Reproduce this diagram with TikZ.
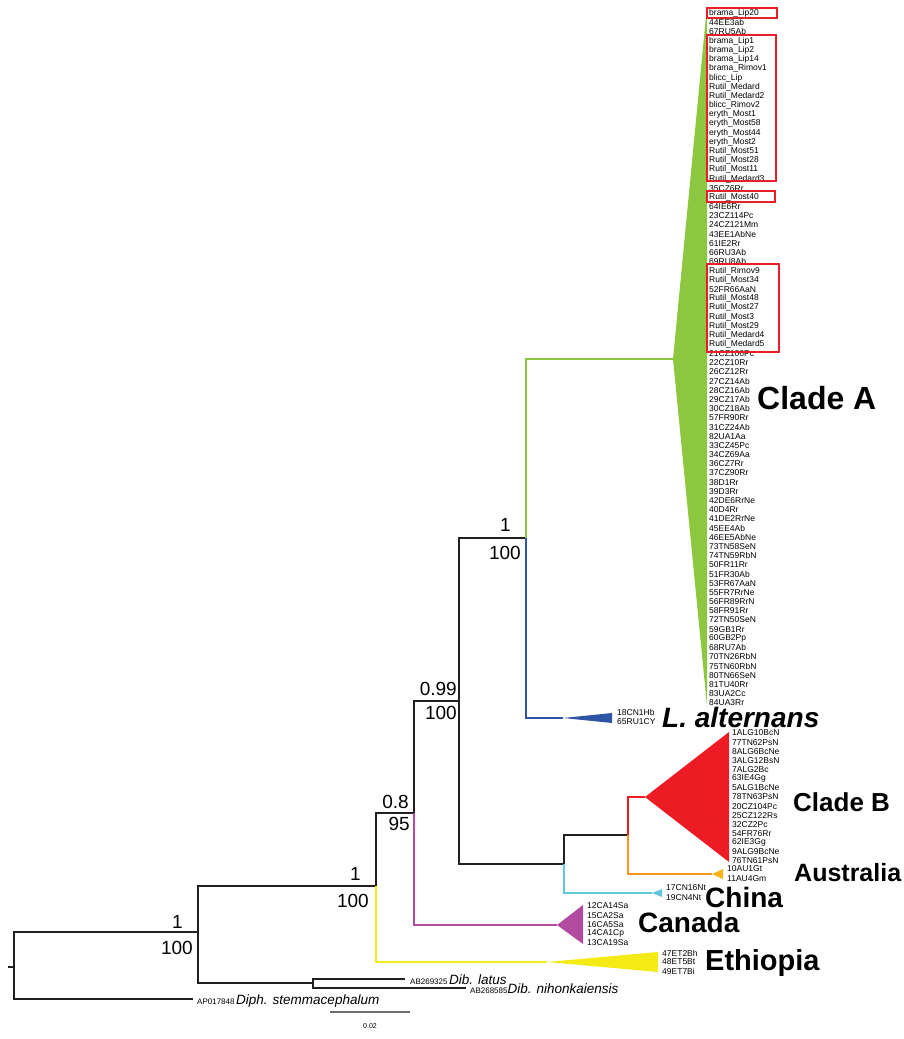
\documentclass[tikz,border=0pt]{standalone}
\usepackage{fontspec}
\setmainfont{Liberation Sans}
\usepackage{tikz}
\usepackage{xcolor}
\usetikzlibrary{positioning, calc}
\definecolor{treeInk}{RGB}{35,31,32}
\definecolor{cladeGreen}{RGB}{141,198,63}
\definecolor{altBlue}{RGB}{46,84,166}
\definecolor{cladeRed}{RGB}{237,28,36}
\definecolor{ausOrange}{RGB}{247,148,30}
\definecolor{ausFill}{RGB}{250,180,25}
\definecolor{chinaCyan}{RGB}{95,200,220}
\definecolor{canadaPink}{RGB}{178,75,160}
\definecolor{ethYellow}{RGB}{245,235,20}
\definecolor{markRed}{RGB}{232,30,40}
\definecolor{barGrey}{RGB}{110,110,110}

\begin{document}
\begin{tikzpicture}[
    x=1pt, y=-1pt,
    branch/.style={line width=1.5pt, draw=treeInk, line join=miter},
    tip/.style={anchor=west, inner sep=0pt, font=\fontsize{8.5}{9}\selectfont},
    support/.style={anchor=east, inner sep=0pt, font=\fontsize{19}{20}\selectfont},
    group/.style={anchor=west, inner sep=0pt, font=\fontsize{26}{28}\selectfont\bfseries},
    outgroup/.style={anchor=base west, inner sep=0pt},
    hilite/.style={draw=markRed, line width=1.2pt}
  ]
  \useasboundingbox (0,0) rectangle (904,1039);

  % internal nodes of the tree
  \coordinate (stub) at (8,967);
  \coordinate (root) at (14,967);
  \coordinate (n1) at (198,932);
  \coordinate (n2) at (376,886);
  \coordinate (n3) at (414,813);
  \coordinate (n4) at (459,701);
  \coordinate (n5) at (526,538);
  \coordinate (n6) at (564,864);
  \coordinate (n7) at (628,835);
  \coordinate (ndib) at (313,983);

  % collapsed clades
  \coordinate (cA) at (673,359);
  \coordinate (cL) at (563,718);
  \coordinate (cB) at (645,797);
  \coordinate (cAu) at (712,874);
  \coordinate (cCh) at (652,893);
  \coordinate (cCa) at (557,925);
  \coordinate (cEt) at (547,962);
  \coordinate (dLat) at (405,979);
  \coordinate (dNih) at (466,988);
  \coordinate (dStem) at (193,999);

  \fill[cladeGreen] (cA) -- (707,6) -- (707,706) -- cycle;
  \fill[altBlue] (cL) -- (612,713) -- (612,723) -- cycle;
  \fill[cladeRed] (cB) -- (729,732) -- (729,862) -- cycle;
  \fill[ausFill] (cAu) -- (723,869) -- (723,879) -- cycle;
  \fill[chinaCyan] (cCh) -- (662,889) -- (662,897) -- cycle;
  \fill[canadaPink] (cCa) -- (583,905) -- (583,944) -- cycle;
  \fill[ethYellow] (cEt) -- (658,952) -- (658,972) -- cycle;

  % branches
  \draw[branch] (stub) -- (root);
  \draw[branch] (root) |- (n1);
  \draw[branch] (root) |- (dStem);
  \draw[branch] (n1) |- (n2);
  \draw[branch] (n1) |- (ndib);
  \draw[branch, line width=1.2pt] (ndib) |- (dLat);
  \draw[branch, line width=1.2pt] (ndib) |- (dNih);
  \draw[branch] (n2) |- (n3);
  \draw[branch, draw=ethYellow] (n2) |- (cEt);
  \draw[branch] (n3) |- (n4);
  \draw[branch, draw=canadaPink] (n3) |- (cCa);
  \draw[branch] (n4) |- (n5);
  \draw[branch] (n4) |- (n6);
  \draw[branch, draw=cladeGreen] (n5) |- (cA);
  \draw[branch, draw=altBlue] (n5) |- (cL);
  \draw[branch] (n6) |- (n7);
  \draw[branch, draw=chinaCyan] (n6) |- (cCh);
  \draw[branch, draw=cladeRed] (n7) |- (cB);
  \draw[branch, draw=ausOrange] (n7) |- (cAu);

  % support values
  \node[support] (pp1) at (183,922) {1};
  \node[support] (bs1) at (193,948) {100};
  \node[support] (pp2) at (361,874) {1};
  \node[support] (bs2) at (369,901) {100};
  \node[support] (pp3) at (409,802) {0.8};
  \node[support] (bs3) at (410,824) {95};
  \node[support] (pp4) at (457,689) {0.99};
  \node[support] (bs4) at (457,713) {100};
  \node[support] (pp5) at (511,525) {1};
  \node[support] (bs5) at (521,553) {100};

  % tip labels
  \foreach \lab [count=\i from 0] in {brama\_Lip20, 44EE3ab, 67RU5Ab, brama\_Lip1, brama\_Lip2,
      brama\_Lip14, brama\_Rimov1, blicc\_Lip, Rutil\_Medard, Rutil\_Medard2, blicc\_Rimov2,
      eryth\_Most1, eryth\_Most58, eryth\_Most44, eryth\_Most2, Rutil\_Most51, Rutil\_Most28,
      Rutil\_Most11, Rutil\_Medard3, 35CZ6Rr, Rutil\_Most40, 64IE6Rr, 23CZ114Pc, 24CZ121Mm,
      43EE1AbNe, 61IE2Rr, 66RU3Ab, 69RU8Ab, Rutil\_Rimov9, Rutil\_Most34, 52FR66AaN,
      Rutil\_Most48, Rutil\_Most27, Rutil\_Most3, Rutil\_Most29, Rutil\_Medard4, Rutil\_Medard5,
      21CZ106Pc, 22CZ10Rr, 26CZ12Rr, 27CZ14Ab, 28CZ16Ab, 29CZ17Ab, 30CZ18Ab, 57FR90Rr,
      31CZ24Ab, 82UA1Aa, 33CZ45Pc, 34CZ69Aa, 36CZ7Rr, 37CZ90Rr, 38D1Rr, 39D3Rr, 42DE6RrNe,
      40D4Rr, 41DE2RrNe, 45EE4Ab, 46EE5AbNe, 73TN58SeN, 74TN59RbN, 50FR11Rr, 51FR30Ab,
      53FR67AaN, 55FR7RrNe, 56FR89RrN, 58FR91Rr, 72TN50SeN, 59GB1Rr, 60GB2Pp, 68RU7Ab,
      70TN26RbN, 75TN60RbN, 80TN66SeN, 81TU40Rr, 83UA2Cc, 84UA3Rr}
    \node[tip] (tipA\i) at (709,{13.5+\i*9.19}) {\lab};

  \foreach \lab [count=\i from 0] in {1ALG10BcN, 77TN62PsN, 8ALG6BcNe, 3ALG12BsN, 7ALG2Bc,
      63IE4Gg, 5ALG1BcNe, 78TN63PsN, 20CZ104Pc, 25CZ122Rs, 32CZ2Pc, 54FR76Rr, 62IE3Gg,
      9ALG9BcNe, 76TN61PsN}
    \node[tip] (tipB\i) at (732,{733+\i*9.14}) {\lab};

  \foreach \lab [count=\i from 0] in {12CA14Sa, 15CA2Sa, 16CA5Sa, 14CA1Cp, 13CA19Sa}
    \node[tip] (tipCa\i) at (587,{906+\i*9.25}) {\lab};

  \foreach \lab [count=\i from 0] in {47ET2Bh, 48ET5Bt, 49ET7Bi}
    \node[tip] (tipEt\i) at (662,{953+\i*9}) {\lab};

  \foreach \lab [count=\i from 0] in {18CN1Hb, 65RU1CY}
    \node[tip] (tipL\i) at (617,{712+\i*10}) {\lab};

  \foreach \lab [count=\i from 0] in {17CN16Nt, 19CN4Nt}
    \node[tip] (tipCh\i) at (666,{888+\i*10}) {\lab};

  \foreach \lab [count=\i from 0] in {10AU1Gt, 11AU4Gm}
    \node[tip] (tipAu\i) at (727,{869+\i*10}) {\lab};

  % highlighted isolates
  \draw[hilite] (707,8) rectangle (777,18);
  \draw[hilite] (707,35) rectangle (776,181);
  \draw[hilite] (707,191) rectangle (775,202);
  \draw[hilite] (707,264) rectangle (779,352);

  % clade names
  \node[group, font=\fontsize{32}{34}\selectfont\bfseries] (nameA) at (757,398) {Clade A};
  \node[group, font=\fontsize{28}{30}\selectfont\bfseries\itshape] (nameL) at (662,717) {L. alternans};
  \node[group] (nameB) at (793,802) {Clade B};
  \node[group, font=\fontsize{25}{27}\selectfont\bfseries] (nameAu) at (794,873) {Australia};
  \node[group, font=\fontsize{28}{30}\selectfont\bfseries] (nameCh) at (705,897) {China};
  \node[group, font=\fontsize{28}{30}\selectfont\bfseries] (nameCa) at (638,922) {Canada};
  \node[group, font=\fontsize{29}{31}\selectfont\bfseries] (nameEt) at (705,963) {Ethiopia};

  % outgroups
  \node[outgroup] (outLat) at (410,984)
    {{\fontsize{8}{9}\selectfont AB269325}\,{\fontsize{13.5}{14}\selectfont\itshape Dib. latus}};
  \node[outgroup] (outNih) at (470,993)
    {{\fontsize{8}{9}\selectfont AB268585}{\fontsize{13.5}{14}\selectfont\itshape Dib. nihonkaiensis}};
  \node[outgroup] (outStem) at (197,1004)
    {{\fontsize{8}{9}\selectfont AP017848}\,{\fontsize{13.5}{14}\selectfont\itshape Diph. stemmacephalum}};

  % scale bar
  \coordinate (sbL) at (330,1012);
  \coordinate (sbR) at (410,1012);
  \draw[barGrey, line width=1.2pt] (sbL) -- (sbR);
  \node[inner sep=0pt, font=\fontsize{7}{8}\selectfont, below=11pt of $(sbL)!0.5!(sbR)$] (sbText) {0.02};
\end{tikzpicture}
\end{document}
